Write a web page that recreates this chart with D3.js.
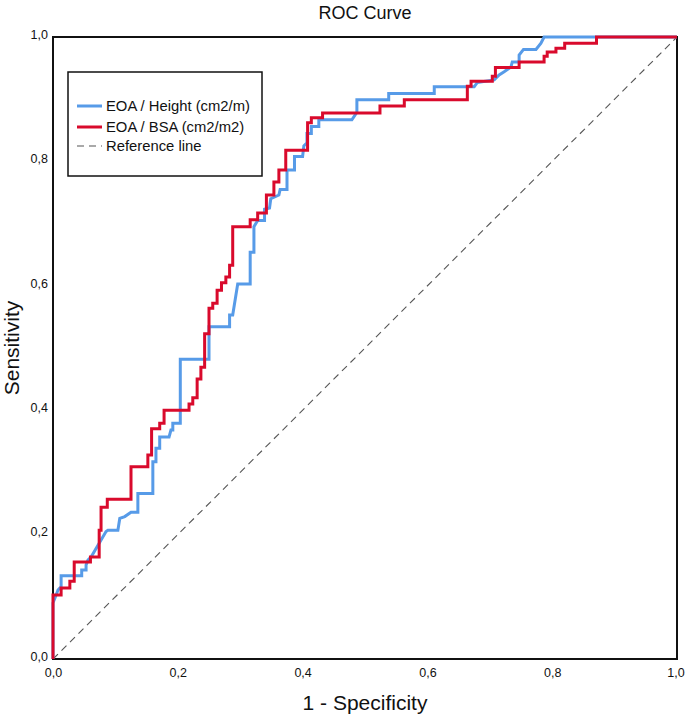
<!DOCTYPE html>
<html><head><meta charset="utf-8">
<script src="https://cdn.jsdelivr.net/npm/d3@7"></script>
<style>body{margin:0;background:#fff}svg{display:block}text{font-family:"Liberation Sans",Arial,sans-serif;fill:#111}</style>
</head><body><div id="chart"></div>
<script>
const seriesNames = ["EOA / Height (cm2/m)", "EOA / BSA (cm2/m2)", "Reference line"];
const seriesColors = ["#579be8", "#d90a2c", "#555555"];
const tickValues = [0, 0.2, 0.4, 0.6, 0.8, 1.0];

const heightFPR = [0,0,0.005,0.008,0.011,0.013,0.013,0.046,0.046,0.053,0.053,0.056,0.061,0.085,0.088,0.104,0.107,0.115,0.125,0.136,0.136,0.160,0.160,0.165,0.165,0.171,0.171,0.186,0.189,0.192,0.192,0.204,0.204,0.250,0.250,0.283,0.283,0.288,0.296,0.316,0.316,0.322,0.322,0.328,0.339,0.339,0.347,0.349,0.362,0.364,0.375,0.375,0.387,0.387,0.400,0.402,0.407,0.407,0.414,0.414,0.426,0.426,0.479,0.487,0.487,0.538,0.538,0.611,0.611,0.675,0.680,0.707,0.715,0.723,0.734,0.736,0.747,0.747,0.754,0.774,0.782,0.787,1];
const heightTPR = [0,0.090,0.103,0.111,0.114,0.114,0.134,0.134,0.143,0.143,0.151,0.159,0.164,0.205,0.207,0.207,0.226,0.229,0.236,0.236,0.266,0.266,0.317,0.317,0.339,0.339,0.357,0.357,0.368,0.368,0.379,0.379,0.482,0.482,0.534,0.534,0.553,0.553,0.603,0.603,0.654,0.654,0.695,0.705,0.705,0.723,0.725,0.740,0.746,0.755,0.755,0.786,0.786,0.808,0.808,0.825,0.830,0.845,0.845,0.856,0.856,0.867,0.867,0.879,0.899,0.899,0.909,0.909,0.920,0.920,0.927,0.931,0.939,0.944,0.952,0.960,0.960,0.971,0.980,0.980,0.990,1.0,1];

const bsaFPR = [0,0,0.013,0.013,0.027,0.027,0.034,0.034,0.060,0.060,0.074,0.074,0.077,0.077,0.087,0.087,0.125,0.125,0.152,0.152,0.158,0.158,0.171,0.171,0.178,0.178,0.218,0.218,0.224,0.224,0.231,0.231,0.237,0.237,0.243,0.243,0.250,0.250,0.256,0.256,0.263,0.263,0.270,0.270,0.277,0.277,0.283,0.283,0.288,0.288,0.316,0.316,0.328,0.328,0.342,0.342,0.354,0.354,0.362,0.362,0.373,0.373,0.408,0.408,0.414,0.414,0.432,0.432,0.524,0.524,0.563,0.563,0.664,0.664,0.670,0.670,0.704,0.704,0.709,0.709,0.747,0.747,0.787,0.787,0.792,0.792,0.806,0.806,0.820,0.820,0.871,0.871,1];
const bsaTPR = [0,0.103,0.103,0.114,0.114,0.125,0.125,0.156,0.156,0.164,0.164,0.207,0.207,0.244,0.244,0.257,0.257,0.309,0.309,0.328,0.328,0.370,0.370,0.379,0.379,0.400,0.400,0.410,0.410,0.420,0.420,0.450,0.450,0.469,0.469,0.523,0.523,0.564,0.564,0.572,0.572,0.593,0.593,0.605,0.605,0.614,0.614,0.633,0.633,0.695,0.695,0.706,0.706,0.717,0.717,0.746,0.746,0.767,0.767,0.786,0.786,0.818,0.818,0.862,0.862,0.870,0.870,0.878,0.878,0.889,0.889,0.899,0.899,0.921,0.921,0.929,0.929,0.937,0.937,0.951,0.951,0.960,0.960,0.969,0.969,0.976,0.976,0.982,0.982,0.990,0.990,1.0,1];

const W = 685, H = 714;
const m = {left: 53, top: 37, right: 8, bottom: 55};
const iw = W - m.left - m.right, ih = H - m.top - m.bottom;
const svg = d3.select("#chart").append("svg").attr("width", W).attr("height", H);
const g = svg.append("g").attr("transform", `translate(${m.left},${m.top})`);
const x = d3.scaleLinear().domain([0,1]).range([0, iw]);
const y = d3.scaleLinear().domain([0,1]).range([ih, 0]);
const fmt = d => d3.format(".1f")(d).replace(".", ",");

const xAxis = g.append("g").attr("transform", `translate(0,${ih})`)
  .call(d3.axisBottom(x).tickValues(tickValues).tickFormat(fmt).tickSize(0).tickPadding(9));
const yAxis = g.append("g")
  .call(d3.axisLeft(y).tickValues(tickValues).tickFormat(fmt).tickSize(0).tickPadding(5));
[xAxis, yAxis].forEach(a => { a.select(".domain").remove(); a.selectAll("text").style("font-size", "12.5px").style("font-family", "Liberation Sans, Arial, sans-serif").attr("fill", "#111"); });
yAxis.selectAll("text").attr("dy", "0.1em");
xAxis.selectAll("text").filter(d => d === 1).attr("dx", "-1.5");

// reference line
g.append("line").attr("x1", x(0)).attr("y1", y(0)).attr("x2", x(1)).attr("y2", y(1))
  .attr("stroke", seriesColors[2]).attr("stroke-width", 1.1).attr("stroke-dasharray", "7,5");

// frame
g.append("rect").attr("x", 0).attr("y", 0).attr("width", iw).attr("height", ih)
  .attr("fill", "none").attr("stroke", "#111").attr("stroke-width", 2);

const line = d3.line().x(d => x(d[0])).y(d => y(d[1]));
const hData = heightFPR.map((v, i) => [v, heightTPR[i]]);
const bData = bsaFPR.map((v, i) => [v, bsaTPR[i]]);
g.append("path").datum(hData).attr("d", line).attr("fill", "none").attr("stroke", seriesColors[0]).attr("stroke-width", 3).attr("stroke-linejoin", "miter");
g.append("path").datum(bData).attr("d", line).attr("fill", "none").attr("stroke", seriesColors[1]).attr("stroke-width", 3).attr("stroke-linejoin", "miter");

// titles
svg.append("text").attr("x", m.left + iw/2).attr("y", 19).attr("text-anchor", "middle").style("font-size", "18px").text("ROC Curve");
svg.append("text").attr("x", m.left + iw/2).attr("y", 710).attr("text-anchor", "middle").style("font-size", "21px").text("1 - Specificity");
svg.append("text").attr("transform", `translate(19,${m.top + ih/2}) rotate(-90)`).attr("text-anchor", "middle").style("font-size", "21px").text("Sensitivity");

// legend
const lg = svg.append("g");
lg.append("rect").attr("x", 68).attr("y", 72).attr("width", 194).attr("height", 104).attr("fill", "#fff").attr("stroke", "#111").attr("stroke-width", 1.5);
const rows = [106, 127, 146];
seriesNames.forEach((n, i) => {
  lg.append("line").attr("x1", 77).attr("x2", 102).attr("y1", rows[i]).attr("y2", rows[i])
    .attr("stroke", seriesColors[i]).attr("stroke-width", i < 2 ? 3 : 1.1).attr("stroke-dasharray", i === 2 ? "7,5" : null);
  lg.append("text").attr("x", 106).attr("y", rows[i]).attr("dy", "0.35em").style("font-size", "14.8px").text(n);
});
</script></body></html>
